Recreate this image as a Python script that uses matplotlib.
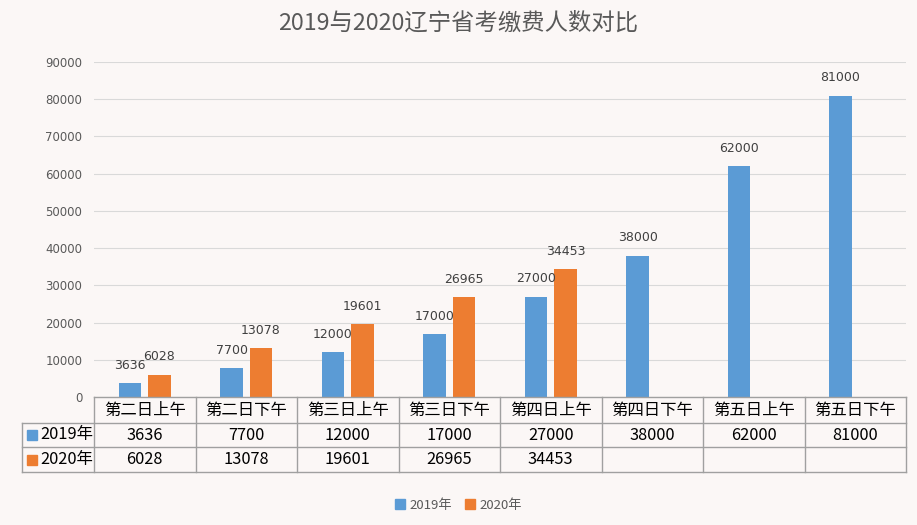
import matplotlib
matplotlib.use("Agg")
import matplotlib.pyplot as plt
import matplotlib.transforms as mtransforms
from matplotlib.lines import Line2D
import numpy as np

plt.rcParams['font.family'] = ['Noto Sans CJK SC', 'DejaVu Sans']

categories = ["第二日上午", "第二日下午", "第三日上午", "第三日下午",
              "第四日上午", "第四日下午", "第五日上午", "第五日下午"]
series_names = ["2019年", "2020年"]
values_2019 = [3636, 7700, 12000, 17000, 27000, 38000, 62000, 81000]
values_2020 = [6028, 13078, 19601, 26965, 34453, None, None, None]
yticks = [0, 10000, 20000, 30000, 40000, 50000, 60000, 70000, 80000, 90000]

c2019 = "#5b9bd5"
c2020 = "#ed7d31"
bg = "#fbf7f6"
txt = "#404040"
border = "#a0a0a0"

W, H = 917, 525
fig = plt.figure(figsize=(W/100, H/100), dpi=100, facecolor=bg)
ax_l, ax_r, ax_t, ax_b = 94, 906, 62, 397
ax = fig.add_axes([ax_l/W, 1-ax_b/H, (ax_r-ax_l)/W, (ax_b-ax_t)/H])
ax.set_facecolor(bg)

n = len(categories)
x = np.arange(n)
bw = 0.22
off = 0.145

x19 = x - off
ax.bar(x19, values_2019, width=bw, color=c2019, zorder=3)
x20 = [xi + off for xi, v in zip(x, values_2020) if v is not None]
v20 = [v for v in values_2020 if v is not None]
ax.bar(x20, v20, width=bw, color=c2020, zorder=3)

for xi, v in zip(x19, values_2019):
    ax.annotate(str(v), (xi, v), xytext=(0, 8), textcoords="offset points",
                ha="center", va="bottom", fontsize=9, color=txt, family="DejaVu Sans")
for xi, v in zip(x20, v20):
    ax.annotate(str(v), (xi, v), xytext=(0, 8), textcoords="offset points",
                ha="center", va="bottom", fontsize=9, color=txt, family="DejaVu Sans")

ax.set_xlim(-0.5, n - 0.5)
ax.set_ylim(0, 90000)
ax.set_yticks(yticks)
ax.set_yticklabels([str(t) for t in yticks], fontsize=8.5, color="#595959", family="DejaVu Sans")
ax.tick_params(axis="y", length=0, pad=8.5)
ax.set_xticks([])
ax.grid(axis="y", color="#d9d9d9", linewidth=0.8, zorder=0)
for s in ax.spines.values():
    s.set_visible(False)

# table below axes
trans = mtransforms.blended_transform_factory(ax.transData, ax.transAxes)
axh = ax_b - ax_t
def yfrac(py):
    return -(py - ax_b) / axh
y0, y1, y2, y3 = yfrac(397), yfrac(423), yfrac(447), yfrac(472)
dpx = n / (ax_r - ax_l)
xleft = -0.5 - (ax_l - 22) * dpx
xr = n - 0.5

lk = dict(color=border, linewidth=1.0, transform=trans, clip_on=False, zorder=5)
ax.plot([-0.5, xr], [y0, y0], **lk)
for yy in (y1, y2, y3):
    ax.plot([xleft, xr], [yy, yy], **lk)
ax.plot([xleft, xleft], [y1, y3], **lk)
for i in range(n + 1):
    ax.plot([-0.5 + i, -0.5 + i], [y0, y3], **lk)

for i, c in enumerate(categories):
    ax.text(i, (y0 + y1) / 2, c, transform=trans, ha="center", va="center",
            fontsize=11.8, color="#000000")
rows = [values_2019, values_2020]
colors = [c2019, c2020]
ymids = [(y1 + y2) / 2, (y2 + y3) / 2]
for name, vals, col, ym in zip(series_names, rows, colors, ymids):
    ax.plot([-0.5 - (ax_l - 32) * dpx], [ym], marker="s", markersize=7.5, color=col,
            transform=trans, clip_on=False, linestyle="none")
    ax.text(-0.5 - (ax_l - 40) * dpx, ym, name, transform=trans, ha="left", va="center",
            fontsize=11.8, color="#000000")
    for i, v in enumerate(vals):
        if v is not None:
            ax.text(i, ym, str(v), transform=trans, ha="center", va="center",
                    fontsize=11.8, color="#000000")

fig.text(0.5, 1 - 23/H, "2019与2020辽宁省考缴费人数对比", ha="center", va="center",
         fontsize=16.8, color="#595959")

handles = [Line2D([], [], marker="s", linestyle="none", markersize=7, color=c2019),
           Line2D([], [], marker="s", linestyle="none", markersize=7, color=c2020)]
fig.legend(handles, series_names, loc="center", bbox_to_anchor=(0.5, 1 - 505/H),
           ncol=2, frameon=False, fontsize=9.5, handlelength=0.8, handletextpad=0.3,
           columnspacing=1.0, labelcolor="#595959")

fig.savefig("out.png", dpi=100, facecolor=bg)
